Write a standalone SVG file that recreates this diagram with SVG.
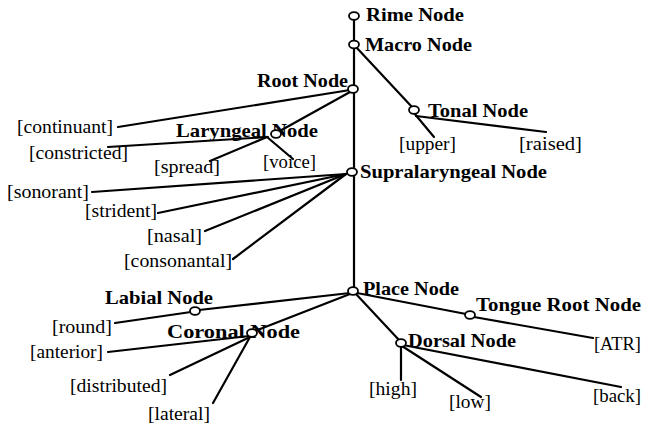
<svg xmlns="http://www.w3.org/2000/svg" width="646" height="428" viewBox="0 0 646 428">
<style>
.n{font-family:"Liberation Serif","Times New Roman",serif;font-weight:bold;font-size:19px;fill:#000}
.f{font-family:"Liberation Serif","Times New Roman",serif;font-size:18.5px;fill:#000}
.c{fill:#fff;stroke:#000;stroke-width:1.8}
#edges line{stroke:#000;stroke-width:2.2;stroke-linecap:round}
</style>
<rect width="646" height="428" fill="#fff"/>
<g id="edges">
<line x1="354" y1="19" x2="354" y2="41"/>
<line x1="354" y1="47" x2="354" y2="288"/>
<line x1="356" y1="47" x2="412" y2="107"/>
<line x1="350" y1="90" x2="118" y2="127"/>
<line x1="350" y1="92" x2="278" y2="132"/>
<line x1="268" y1="137" x2="108" y2="147"/>
<line x1="267" y1="137" x2="210" y2="161"/>
<line x1="267" y1="137" x2="293" y2="159"/>
<line x1="414" y1="113" x2="434" y2="137"/>
<line x1="416" y1="116" x2="546" y2="132"/>
<line x1="346" y1="174" x2="92" y2="192"/>
<line x1="346" y1="174" x2="158" y2="213"/>
<line x1="346" y1="174" x2="205" y2="231"/>
<line x1="346" y1="174" x2="233" y2="259"/>
<line x1="350" y1="293" x2="199" y2="310"/>
<line x1="191" y1="312" x2="115" y2="323"/>
<line x1="350" y1="294" x2="255" y2="331"/>
<line x1="249" y1="336" x2="108" y2="352"/>
<line x1="250" y1="337" x2="170" y2="375"/>
<line x1="250" y1="337" x2="213" y2="403"/>
<line x1="357" y1="293" x2="466" y2="314"/>
<line x1="474" y1="317" x2="593" y2="338"/>
<line x1="356" y1="294" x2="399" y2="340"/>
<line x1="401" y1="346" x2="401" y2="380"/>
<line x1="402" y1="346" x2="481" y2="397"/>
<line x1="403" y1="345" x2="621" y2="387"/>
</g>
<g id="rime"><ellipse class="c" cx="354" cy="16" rx="5" ry="3.8"/><text class="n" x="366" y="21" textLength="98" lengthAdjust="spacingAndGlyphs">Rime Node</text></g>
<g id="macro"><ellipse class="c" cx="354" cy="44.5" rx="5" ry="3.8"/><text class="n" x="365" y="51" textLength="107" lengthAdjust="spacingAndGlyphs">Macro Node</text></g>
<g id="root"><ellipse class="c" cx="353" cy="89" rx="5" ry="3.8"/><text class="n" x="257" y="87" textLength="91" lengthAdjust="spacingAndGlyphs">Root Node</text></g>
<g id="tonal"><ellipse class="c" cx="414" cy="110" rx="5" ry="3.8"/><text class="n" x="428" y="117" textLength="100" lengthAdjust="spacingAndGlyphs">Tonal Node</text></g>
<g id="laryngeal"><text class="n" x="176" y="137" textLength="142" lengthAdjust="spacingAndGlyphs">Laryngeal Node</text><ellipse class="c" cx="276" cy="134" rx="5" ry="3.8"/></g>
<g id="supralaryngeal"><ellipse class="c" cx="352" cy="172" rx="5" ry="3.8"/><text class="n" x="360" y="178" textLength="187" lengthAdjust="spacingAndGlyphs">Supralaryngeal Node</text></g>
<g id="place"><ellipse class="c" cx="353" cy="291" rx="5" ry="3.8"/><text class="n" x="363" y="295" textLength="96" lengthAdjust="spacingAndGlyphs">Place Node</text></g>
<g id="labial"><text class="n" x="105" y="304" textLength="108" lengthAdjust="spacingAndGlyphs">Labial Node</text><ellipse class="c" cx="195" cy="311" rx="5" ry="3.8"/></g>
<g id="coronal"><text class="n" x="167" y="338" textLength="133" lengthAdjust="spacingAndGlyphs">Coronal Node</text><ellipse class="c" cx="252" cy="333" rx="5" ry="3.8"/></g>
<g id="tongueroot"><ellipse class="c" cx="470" cy="315" rx="5" ry="3.8"/><text class="n" x="476" y="311" textLength="165" lengthAdjust="spacingAndGlyphs">Tongue Root Node</text></g>
<g id="dorsal"><ellipse class="c" cx="401" cy="343" rx="5" ry="3.8"/><text class="n" x="408" y="347" textLength="108" lengthAdjust="spacingAndGlyphs">Dorsal Node</text></g>
<g id="continuant"><text class="f" x="17" y="133" textLength="96" lengthAdjust="spacingAndGlyphs">[continuant]</text></g>
<g id="constricted"><text class="f" x="29" y="159" textLength="99" lengthAdjust="spacingAndGlyphs">[constricted]</text></g>
<g id="spread"><text class="f" x="154" y="173" textLength="66" lengthAdjust="spacingAndGlyphs">[spread]</text></g>
<g id="voice"><text class="f" x="263" y="168" textLength="53" lengthAdjust="spacingAndGlyphs">[voice]</text></g>
<g id="upper"><text class="f" x="399" y="150" textLength="57" lengthAdjust="spacingAndGlyphs">[upper]</text></g>
<g id="raised"><text class="f" x="519" y="150" textLength="63" lengthAdjust="spacingAndGlyphs">[raised]</text></g>
<g id="sonorant"><text class="f" x="7" y="198" textLength="82" lengthAdjust="spacingAndGlyphs">[sonorant]</text></g>
<g id="strident"><text class="f" x="85" y="217" textLength="72" lengthAdjust="spacingAndGlyphs">[strident]</text></g>
<g id="nasal"><text class="f" x="147" y="242" textLength="55" lengthAdjust="spacingAndGlyphs">[nasal]</text></g>
<g id="consonantal"><text class="f" x="124" y="267" textLength="108" lengthAdjust="spacingAndGlyphs">[consonantal]</text></g>
<g id="round"><text class="f" x="52" y="333" textLength="60" lengthAdjust="spacingAndGlyphs">[round]</text></g>
<g id="anterior"><text class="f" x="30" y="358" textLength="73" lengthAdjust="spacingAndGlyphs">[anterior]</text></g>
<g id="distributed"><text class="f" x="70" y="392" textLength="97" lengthAdjust="spacingAndGlyphs">[distributed]</text></g>
<g id="lateral"><text class="f" x="148" y="420" textLength="62" lengthAdjust="spacingAndGlyphs">[lateral]</text></g>
<g id="atr"><text class="f" x="594" y="350" textLength="47" lengthAdjust="spacingAndGlyphs">[ATR]</text></g>
<g id="high"><text class="f" x="369" y="395" textLength="48" lengthAdjust="spacingAndGlyphs">[high]</text></g>
<g id="low"><text class="f" x="449" y="408" textLength="42" lengthAdjust="spacingAndGlyphs">[low]</text></g>
<g id="back"><text class="f" x="593" y="402" textLength="48" lengthAdjust="spacingAndGlyphs">[back]</text></g>
</svg>
